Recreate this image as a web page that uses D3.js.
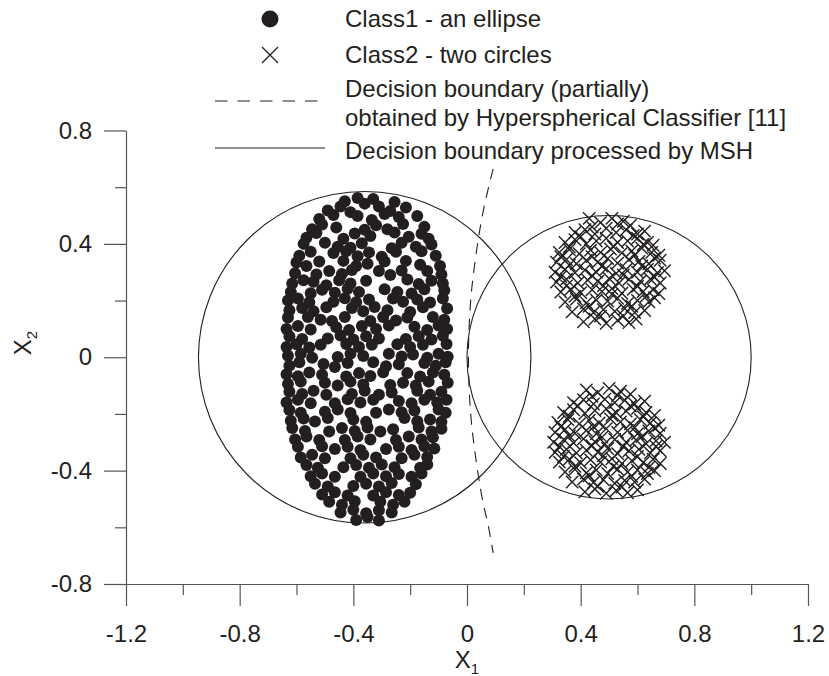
<!DOCTYPE html>
<meta charset="utf-8">
<script src="https://d3js.org/d3.v7.min.js"></script>
<html>
<head>
<style>
body { margin: 0; background: white; }
text { font-family: "Liberation Sans", Arial, sans-serif; fill: #231f20; }
</style>
</head>
<body>
<div id="chart"></div>
<script>

// tick values
var xMajor = [-1.2, -0.8, -0.4, 0, 0.4, 0.8, 1.2];
var xMinor = [-1.0, -0.6, -0.2, 0.2, 0.6, 1.0];
var yMajor = [-0.8, -0.4, 0, 0.4, 0.8];
var yMinor = [-0.6, -0.2, 0.2, 0.6];

// class 1 - points of the ellipse
var class1 = [
  [-.43,.55],[-.385,.562],[-.36,.542],[-.33,.558],[-.255,.548],
  [-.49,.518],[-.445,.532],[-.41,.512],[-.31,.532],[-.27,.516],[-.215,.528],
  [-.52,.488],[-.47,.502],[-.385,.498],[-.335,.484],[-.29,.505],[-.24,.495],[-.175,.498],
  [-.545,.452],[-.51,.468],[-.46,.458],[-.36,.45],[-.32,.466],[-.28,.452],[-.225,.47],[-.15,.46],
  [-.565,.422],[-.53,.438],[-.435,.418],[-.395,.437],[-.34,.428],[-.255,.44],[-.205,.425],[-.16,.436],[-.135,.418],
  [-.575,.40],[-.5,.404],[-.455,.39],[-.41,.386],[-.37,.402],[-.265,.385],[-.23,.404],[-.18,.39],[-.125,.398],
  [-.59,.358],[-.55,.372],[-.47,.368],[-.425,.374],[-.385,.356],[-.345,.37],[-.30,.355],[-.25,.372],[-.16,.374],[-.11,.358],
  [-.60,.334],[-.565,.322],[-.52,.338],[-.435,.34],[-.39,.322],[-.35,.33],[-.29,.338],[-.215,.34],[-.165,.326],[-.095,.322],
  [-.605,.296],[-.53,.292],[-.485,.304],[-.44,.294],[-.405,.308],[-.31,.304],[-.27,.29],[-.23,.306],[-.14,.304],[-.09,.292],
  [-.615,.26],[-.575,.272],[-.54,.266],[-.495,.254],[-.45,.272],[-.41,.26],[-.355,.27],[-.21,.274],[-.17,.258],[-.125,.27],[-.085,.26],
  [-.62,.23],[-.55,.226],[-.51,.238],[-.465,.228],[-.42,.242],[-.38,.23],[-.29,.24],[-.245,.23],[-.195,.225],[-.15,.24],[-.08,.236],
  [-.63,.20],[-.595,.207],[-.555,.194],[-.47,.196],[-.43,.208],[-.39,.194],[-.345,.204],[-.26,.207],[-.225,.196],[-.175,.204],[-.13,.193],[-.085,.207],
  [-.625,.166],[-.58,.174],[-.54,.162],[-.495,.176],[-.405,.174],[-.365,.162],[-.325,.177],[-.28,.166],[-.20,.16],[-.155,.176],[-.07,.172],
  [-.63,.14],[-.56,.142],[-.515,.132],[-.475,.128],[-.43,.142],[-.34,.128],[-.295,.142],[-.25,.13],[-.21,.14],[-.12,.142],[-.08,.132],
  [-.635,.10],[-.595,.11],[-.55,.098],[-.46,.106],[-.415,.096],[-.37,.11],[-.32,.10],[-.275,.112],[-.185,.108],[-.14,.096],[-.10,.112],[-.07,.10],
  [-.625,.074],[-.58,.064],[-.49,.066],[-.445,.077],[-.40,.063],[-.355,.074],[-.31,.066],[-.215,.064],[-.17,.074],[-.125,.063],[-.085,.076],
  [-.635,.036],[-.6,.046],[-.555,.034],[-.515,.044],[-.425,.047],[-.38,.036],[-.335,.044],[-.245,.046],[-.20,.036],[-.155,.044],[-.072,.047],
  [-.63,.005],[-.585,.012],[-.545,-.002],[-.455,.001],[-.41,.012],[-.365,.004],[-.275,.012],[-.23,.003],[-.19,.01],[-.14,-.002],[-.10,.012],[-.068,.002],
  [-.625,-.03],[-.59,-.018],[-.505,-.024],[-.465,-.034],[-.42,-.02],[-.33,-.018],[-.285,-.032],[-.24,-.025],[-.15,-.02],[-.11,-.03],[-.075,-.018],
  [-.635,-.06],[-.595,-.067],[-.555,-.054],[-.51,-.062],[-.425,-.068],[-.38,-.056],[-.34,-.066],[-.295,-.053],[-.21,-.056],[-.165,-.068],[-.12,-.054],[-.08,-.062],
  [-.63,-.094],[-.585,-.086],[-.50,-.09],[-.455,-.1],[-.41,-.086],[-.365,-.096],[-.27,-.098],[-.225,-.09],[-.18,-.1],[-.135,-.086],[-.068,-.09],
  [-.625,-.122],[-.58,-.13],[-.54,-.118],[-.495,-.132],[-.405,-.13],[-.36,-.118],[-.31,-.132],[-.265,-.124],[-.175,-.118],[-.13,-.132],[-.09,-.122],
  [-.635,-.16],[-.595,-.15],[-.55,-.162],[-.465,-.162],[-.42,-.148],[-.375,-.16],[-.33,-.15],[-.24,-.154],[-.195,-.162],[-.15,-.15],[-.105,-.16],[-.072,-.15],
  [-.625,-.186],[-.585,-.196],[-.50,-.192],[-.455,-.184],[-.41,-.197],[-.32,-.196],[-.275,-.184],[-.23,-.194],[-.185,-.188],[-.10,-.184],[-.075,-.196],
  [-.62,-.224],[-.575,-.216],[-.535,-.227],[-.49,-.214],[-.40,-.22],[-.355,-.228],[-.22,-.214],[-.175,-.226],[-.13,-.22],[-.09,-.228],
  [-.615,-.25],[-.57,-.26],[-.485,-.262],[-.44,-.25],[-.395,-.26],[-.35,-.248],[-.305,-.262],[-.26,-.254],[-.17,-.248],[-.125,-.262],[-.09,-.252],
  [-.605,-.29],[-.565,-.28],[-.52,-.292],[-.43,-.292],[-.385,-.28],[-.34,-.29],[-.25,-.292],[-.205,-.28],[-.16,-.29],[-.12,-.282],
  [-.595,-.316],[-.51,-.314],[-.465,-.324],[-.42,-.316],[-.375,-.327],[-.285,-.324],[-.24,-.316],[-.195,-.327],[-.15,-.314],[-.115,-.322],
  [-.585,-.354],[-.545,-.344],[-.5,-.356],[-.41,-.356],[-.365,-.344],[-.32,-.354],[-.23,-.356],[-.185,-.344],[-.14,-.352],
  [-.565,-.38],[-.525,-.39],[-.435,-.388],[-.39,-.38],[-.345,-.39],[-.30,-.378],[-.255,-.388],[-.165,-.39],[-.14,-.378],
  [-.55,-.42],[-.51,-.41],[-.465,-.422],[-.375,-.422],[-.33,-.41],[-.285,-.42],[-.24,-.412],[-.195,-.422],[-.16,-.41],
  [-.535,-.446],[-.49,-.456],[-.40,-.454],[-.355,-.446],[-.31,-.456],[-.265,-.444],[-.18,-.448],
  [-.51,-.484],[-.465,-.476],[-.42,-.488],[-.33,-.488],[-.285,-.476],[-.24,-.486],[-.20,-.478],
  [-.485,-.51],[-.44,-.52],[-.395,-.508],[-.305,-.51],[-.26,-.52],[-.22,-.51],
  [-.445,-.548],[-.40,-.538],[-.355,-.55],[-.31,-.54],[-.265,-.548],
  [-.39,-.574],[-.35,-.564],[-.31,-.576]
];

// class 2 - points of the two circles
var class2 = [
  [.43,.49],[.47,.475],[.51,.49],[.55,.48],[.575,.465],[.44,.46],[.53,.47],
  [.38,.44],[.415,.45],[.45,.435],[.49,.455],[.525,.44],[.56,.45],[.60,.435],[.625,.445],[.40,.425],[.585,.43],
  [.345,.405],[.38,.415],[.42,.40],[.455,.41],[.49,.42],[.53,.405],[.565,.41],[.60,.42],[.635,.405],[.655,.395],[.36,.39],[.515,.39],[.62,.398],
  [.325,.37],[.36,.38],[.395,.365],[.435,.378],[.47,.37],[.505,.382],[.545,.368],[.58,.375],[.615,.385],[.65,.37],[.675,.36],[.33,.355],[.44,.355],[.59,.36],[.66,.35],
  [.315,.335],[.35,.345],[.385,.33],[.42,.342],[.46,.335],[.495,.348],[.53,.332],[.57,.345],[.605,.338],[.64,.33],[.68,.342],[.36,.325],[.475,.322],[.615,.322],
  [.31,.30],[.345,.31],[.38,.298],[.415,.308],[.455,.30],[.49,.312],[.525,.296],[.56,.31],[.60,.30],[.635,.31],[.67,.298],[.695,.305],[.33,.285],[.44,.288],[.55,.29],[.66,.282],
  [.315,.265],[.35,.275],[.39,.262],[.425,.272],[.46,.268],[.50,.278],[.535,.262],[.57,.275],[.61,.268],[.645,.276],[.68,.262],[.35,.252],[.48,.252],[.60,.25],
  [.33,.23],[.365,.24],[.40,.228],[.44,.238],[.475,.232],[.51,.242],[.545,.226],[.585,.24],[.62,.232],[.655,.238],[.675,.225],[.38,.215],[.51,.222],[.63,.215],
  [.345,.195],[.385,.205],[.42,.192],[.455,.202],[.495,.198],[.53,.208],[.565,.19],[.60,.20],[.64,.196],[.66,.21],[.43,.18],[.58,.18],
  [.37,.16],[.41,.17],[.445,.158],[.48,.168],[.52,.162],[.555,.172],[.59,.158],[.625,.165],[.47,.145],[.55,.145],
  [.41,.125],[.45,.135],[.49,.12],[.53,.13],[.57,.122],[.595,.135],
  [.42,-.115],[.46,-.125],[.50,-.11],[.54,-.12],[.575,-.13],[.44,-.138],[.53,-.135],
  [.375,-.16],[.41,-.15],[.445,-.165],[.485,-.148],[.52,-.16],[.555,-.152],[.59,-.165],[.625,-.155],[.39,-.172],[.575,-.172],
  [.34,-.195],[.375,-.185],[.415,-.198],[.45,-.188],[.49,-.182],[.525,-.196],[.56,-.19],[.60,-.18],[.63,-.195],[.66,-.205],[.36,-.208],[.51,-.205],[.62,-.21],
  [.32,-.23],[.355,-.22],[.395,-.235],[.43,-.222],[.465,-.232],[.505,-.218],[.54,-.228],[.575,-.235],[.61,-.22],[.645,-.232],[.675,-.24],[.33,-.245],[.445,-.245],[.59,-.248],[.66,-.25],
  [.31,-.265],[.345,-.255],[.38,-.268],[.42,-.258],[.455,-.27],[.49,-.252],[.53,-.265],[.565,-.258],[.60,-.27],[.64,-.26],[.68,-.268],[.36,-.278],[.475,-.282],[.615,-.28],
  [.305,-.30],[.34,-.29],[.375,-.302],[.41,-.288],[.45,-.298],[.485,-.305],[.52,-.29],[.56,-.30],[.595,-.292],[.63,-.305],[.665,-.295],[.695,-.30],[.325,-.315],[.44,-.312],[.55,-.315],[.665,-.315],
  [.31,-.335],[.35,-.325],[.385,-.338],[.42,-.328],[.46,-.335],[.495,-.322],[.53,-.34],[.57,-.33],[.605,-.325],[.645,-.338],[.68,-.33],[.34,-.35],[.48,-.348],[.60,-.35],
  [.325,-.37],[.36,-.36],[.40,-.372],[.435,-.362],[.47,-.37],[.51,-.358],[.545,-.375],[.58,-.365],[.62,-.372],[.655,-.36],[.68,-.375],[.38,-.385],[.515,-.385],[.64,-.388],
  [.345,-.405],[.38,-.395],[.42,-.408],[.455,-.398],[.495,-.41],[.53,-.395],[.565,-.405],[.60,-.398],[.635,-.41],[.66,-.40],[.43,-.418],[.58,-.42],
  [.37,-.44],[.41,-.43],[.445,-.442],[.48,-.432],[.52,-.445],[.555,-.435],[.59,-.44],[.625,-.43],[.46,-.455],[.545,-.458],
  [.415,-.475],[.45,-.465],[.49,-.48],[.525,-.47],[.565,-.478],[.60,-.468]
];

// decision boundary processed by MSH: two circles [cx, cy, r]
var mshCircles = [[-0.36, 0, 0.585], [0.5, 0, 0.5]];

// decision boundary of the hyperspherical classifier (dashed)
var hscBoundary = [[0.092,0.665],[0.076,0.6],[0.054,0.5],[0.03,0.35],[0.013,0.2],[0.005,0],[0.013,-0.2],[0.03,-0.35],[0.054,-0.5],[0.076,-0.6],[0.092,-0.69]];

var legendLabels = ["Class1 - an ellipse", "Class2 - two circles", "Decision boundary (partially)", "obtained by Hyperspherical Classifier [11]", "Decision boundary processed by MSH"];

var W = 829, H = 676;
var svg = d3.select("#chart").append("svg").attr("width", W).attr("height", H);

var x = d3.scaleLinear().domain([-1.2, 1.2]).range([126, 808]);
var y = d3.scaleLinear().domain([-0.8, 0.8]).range([584, 130.5]);

var fmt = function(d) { return d === 0 ? "0" : String(+d.toFixed(1)); };
var axisColor = "#555";

// y axis
svg.append("g").attr("transform", "translate(" + x(-1.2) + ",0)")
  .call(d3.axisLeft(y).tickValues(yMajor).tickSize(22).tickSizeOuter(0).tickPadding(12).tickFormat(fmt));
svg.append("g").attr("transform", "translate(" + x(-1.2) + ",0)")
  .call(d3.axisLeft(y).tickValues(yMinor).tickSize(11).tickFormat(""))
  .select(".domain").remove();

// x axis
svg.append("g").attr("transform", "translate(0," + y(-0.8) + ")")
  .call(d3.axisBottom(x).tickValues(xMajor).tickSize(22).tickSizeOuter(0).tickPadding(19).tickFormat(fmt));
svg.append("g").attr("transform", "translate(0," + y(-0.8) + ")")
  .call(d3.axisBottom(x).tickValues(xMinor).tickSize(11).tickFormat(""))
  .select(".domain").remove();

svg.selectAll(".tick line, .domain").attr("stroke", axisColor).attr("stroke-width", 1.2);
svg.selectAll(".tick text").style("font-size", "24px").style("font-family", "Liberation Sans, Arial, sans-serif").attr("fill", "#231f20");

// axis titles
var xt = svg.append("text").attr("x", x(0)).attr("y", 668).attr("text-anchor", "middle").style("font-size", "24px");
xt.append("tspan").text("X");
xt.append("tspan").attr("dy", 6).style("font-size", "15px").text("1");

var yt = svg.append("text").attr("transform", "translate(31,343) rotate(-90)").attr("text-anchor", "middle").style("font-size", "24px");
yt.append("tspan").text("X");
yt.append("tspan").attr("dy", 6).style("font-size", "15px").text("2");

// boundary circles
svg.append("g").selectAll("ellipse").data(mshCircles).enter().append("ellipse")
  .attr("cx", function(d) { return x(d[0]); })
  .attr("cy", function(d) { return y(d[1]); })
  .attr("rx", function(d) { return x(d[0] + d[2]) - x(d[0]); })
  .attr("ry", function(d) { return y(d[1]) - y(d[1] + d[2]); })
  .attr("fill", "none").attr("stroke", "#231f20").attr("stroke-width", 1.1);

// dashed boundary
svg.append("path").datum(hscBoundary)
  .attr("fill", "none").attr("stroke", "#231f20").attr("stroke-width", 1.1)
  .attr("stroke-dasharray", "11,8")
  .attr("d", d3.line().curve(d3.curveCatmullRom)
    .x(function(d) { return x(d[0]); })
    .y(function(d) { return y(d[1]); }));

// class 1 dots
svg.append("g").selectAll("circle").data(class1).enter().append("circle")
  .attr("cx", function(d) { return x(d[0]); })
  .attr("cy", function(d) { return y(d[1]); })
  .attr("r", 6)
  .attr("fill", "#231f20");

// class 2 crosses
var cs = 6.2;
svg.append("g").selectAll("path").data(class2).enter().append("path")
  .attr("d", function(d) {
    var px = x(d[0]), py = y(d[1]);
    return "M" + (px - cs) + "," + (py - cs) + "L" + (px + cs) + "," + (py + cs) +
           "M" + (px - cs) + "," + (py + cs) + "L" + (px + cs) + "," + (py - cs);
  })
  .attr("stroke", "#231f20").attr("stroke-width", 1.4).attr("fill", "none");

// legend
var lg = svg.append("g");
lg.append("circle").attr("cx", 270).attr("cy", 19).attr("r", 8.5).attr("fill", "#231f20");
lg.append("path").attr("d", "M262,47L278,63M262,63L278,47").attr("stroke", "#231f20").attr("stroke-width", 1.3);
lg.append("line").attr("x1", 215).attr("x2", 325).attr("y1", 101).attr("y2", 101)
  .attr("stroke", "#231f20").attr("stroke-width", 1.1).attr("stroke-dasharray", "12.5,10");
lg.append("line").attr("x1", 215).attr("x2", 325).attr("y1", 148).attr("y2", 148)
  .attr("stroke", "#231f20").attr("stroke-width", 1.1);
var legendY = [19, 55, 89, 118, 151];
lg.selectAll("text.lab").data(legendLabels).enter().append("text")
  .attr("class", "lab")
  .attr("x", 345)
  .attr("y", function(d, i) { return legendY[i]; })
  .attr("dy", "0.35em")
  .style("font-size", "24px")
  .text(function(d) { return d; });

</script>
</body>
</html>
